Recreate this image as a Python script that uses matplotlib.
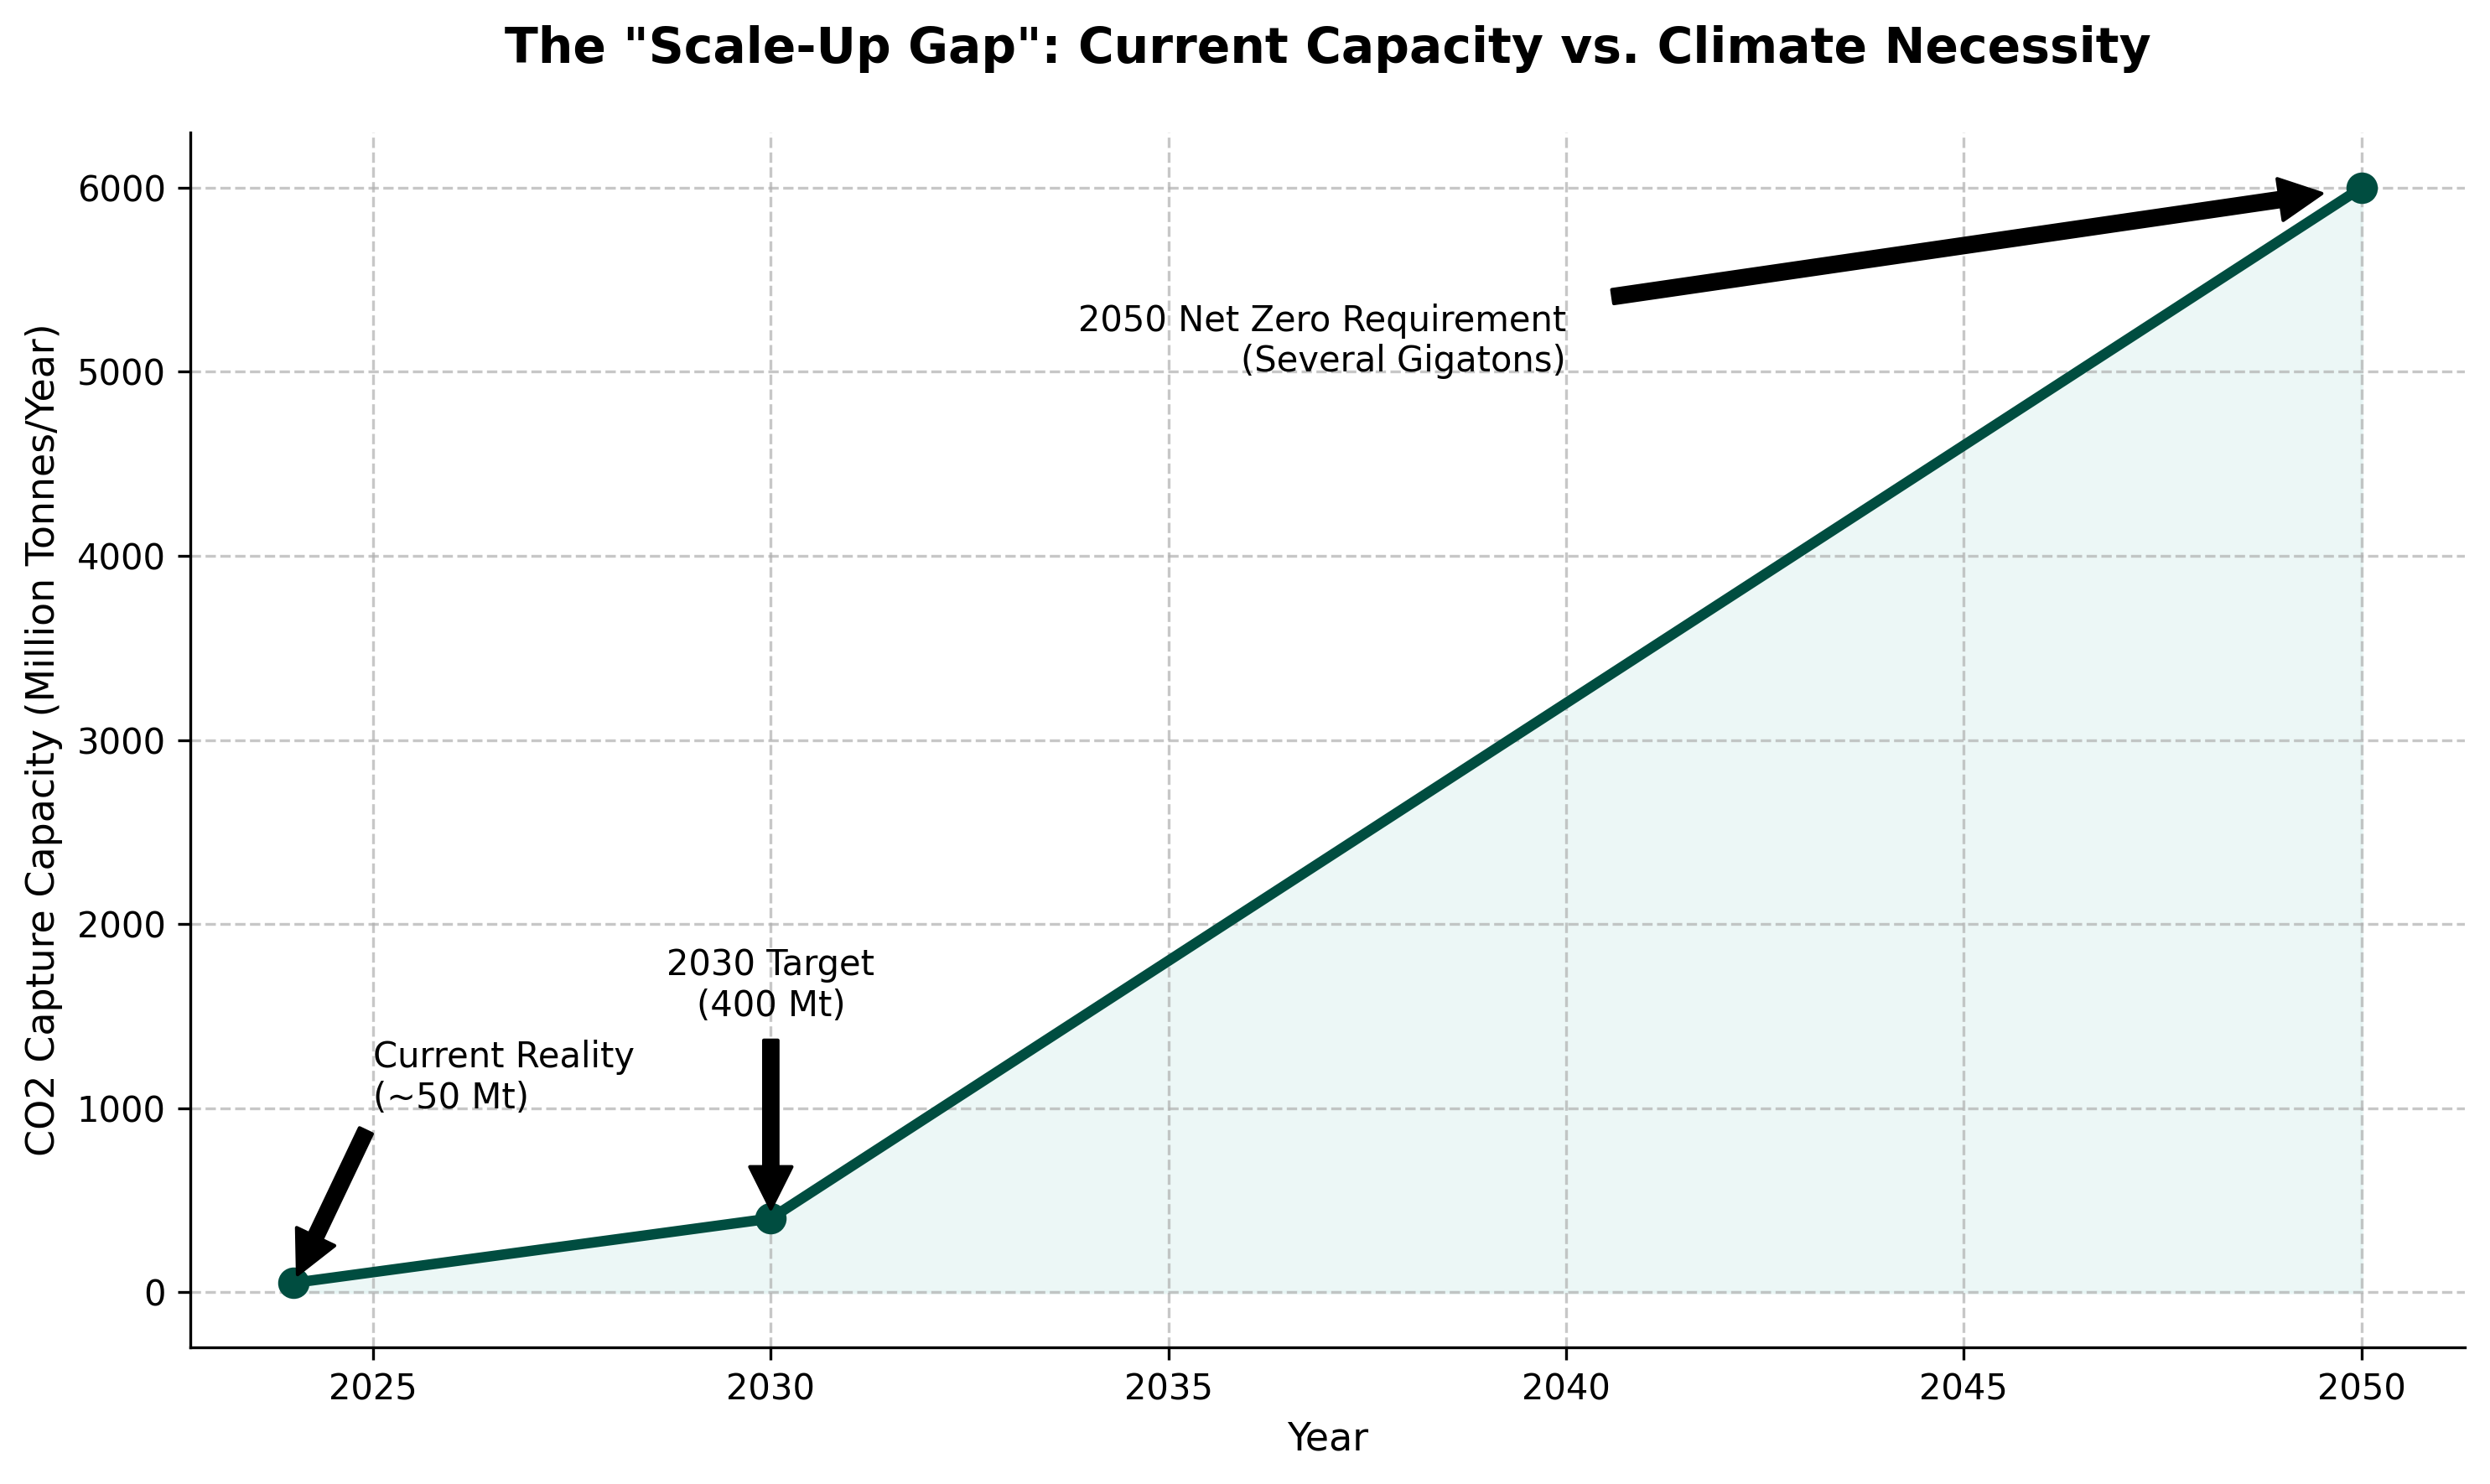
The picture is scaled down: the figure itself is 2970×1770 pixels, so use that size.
import matplotlib
matplotlib.use('Agg')
import matplotlib.pyplot as plt

# data: CO2 capture capacity (million tonnes / year)
years = [2024, 2030, 2050]
capacity = [50, 400, 6000]

notes = ['Current Reality\n(~50 Mt)', '2030 Target\n(400 Mt)',
         '2050 Net Zero Requirement\n(Several Gigatons)']
note_xy = [(2024, 50), (2030, 400), (2050, 6000)]
note_text_xy = [(2025, 1000), (2030, 1500), (2040, 5000)]
note_ha = ['left', 'center', 'right']

line_color = '#004d40'

fig, ax = plt.subplots(figsize=(9.9, 5.9), dpi=300)
fig.subplots_adjust(left=0.0764, right=0.9899, bottom=0.0921, top=0.9107)

ax.plot(years, capacity, marker='o', markersize=8, linewidth=3, color=line_color)
ax.fill_between(years, capacity, color='#e0f2f1', alpha=0.6)

for txt, xy, xyt, ha in zip(notes, note_xy, note_text_xy, note_ha):
    ax.annotate(txt, xy=xy, xytext=xyt, ha=ha, fontsize=10,
                arrowprops=dict(facecolor='black', shrink=0.05))

ax.set_title('The "Scale-Up Gap": Current Capacity vs. Climate Necessity',
             fontsize=14, fontweight='bold', pad=20)
ax.set_xlabel('Year', fontsize=11)
ax.set_ylabel('CO2 Capture Capacity (Million Tonnes/Year)', fontsize=11)

ax.grid(True, linestyle='--', alpha=0.7)
ax.spines['top'].set_visible(False)
ax.spines['right'].set_visible(False)

plt.savefig('out.png', dpi=300)
